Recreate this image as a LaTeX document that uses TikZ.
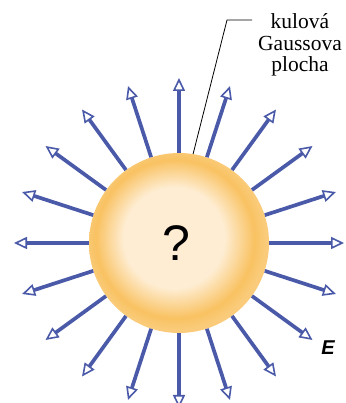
\documentclass[tikz,border=0pt]{standalone}
\usepackage{fontspec}
\setmainfont{Liberation Serif}
\newfontfamily\sansq{Liberation Sans}
\usetikzlibrary{arrows.meta}
\definecolor{fieldblue}{HTML}{4A5AA8}
\definecolor{spherecream}{HTML}{FEEDD3}
\definecolor{sphereorange}{HTML}{F9C262}
\pgfdeclareradialshading{gausssphere}{\pgfpoint{-2bp}{2bp}}{color(0bp)=(spherecream); color(14bp)=(spherecream); color(22bp)=(sphereorange); color(25bp)=(sphereorange!85!white); color(50bp)=(sphereorange!85!white)}

\begin{document}
\begin{tikzpicture}[
    x=1pt, y=1pt,
    sphere/.style={circle, minimum size=180pt, inner sep=0pt, shading=gausssphere},
    field/.style={line width=3.7pt, draw=fieldblue, -{Triangle[open, length=13pt, width=12pt, line width=1.6pt, fill=white]}},
    leader/.style={draw=black, line width=0.8pt}
]
\useasboundingbox (0,0) rectangle (345,403);
\node[sphere] (sphere) at (179,160) {};
\node[font=\sansq\fontsize{50}{50}\selectfont, inner sep=0pt] (mark) at ([xshift=-3pt]sphere.center) {?};
% field lines
\foreach \a [count=\i] in {0,18,...,342} {
    \coordinate (tip\i) at ([shift={(\a:165)}]sphere.center);
    \draw[field] (sphere.\a) -- (tip\i);
}
\node[align=center, inner sep=0pt, inner xsep=6pt, font=\fontsize{21.5}{21.5}\selectfont] (label) at (300,358) {kulová\\Gaussova\\plocha};
\coordinate (bend) at (227,383);
\draw[leader] (sphere.81) -- (bend) -- (bend -| label.west);
\node[font=\sansq\bfseries\itshape\fontsize{20}{20}\selectfont, inner sep=0pt] (efield) at (328,55) {E};
\end{tikzpicture}
\end{document}
